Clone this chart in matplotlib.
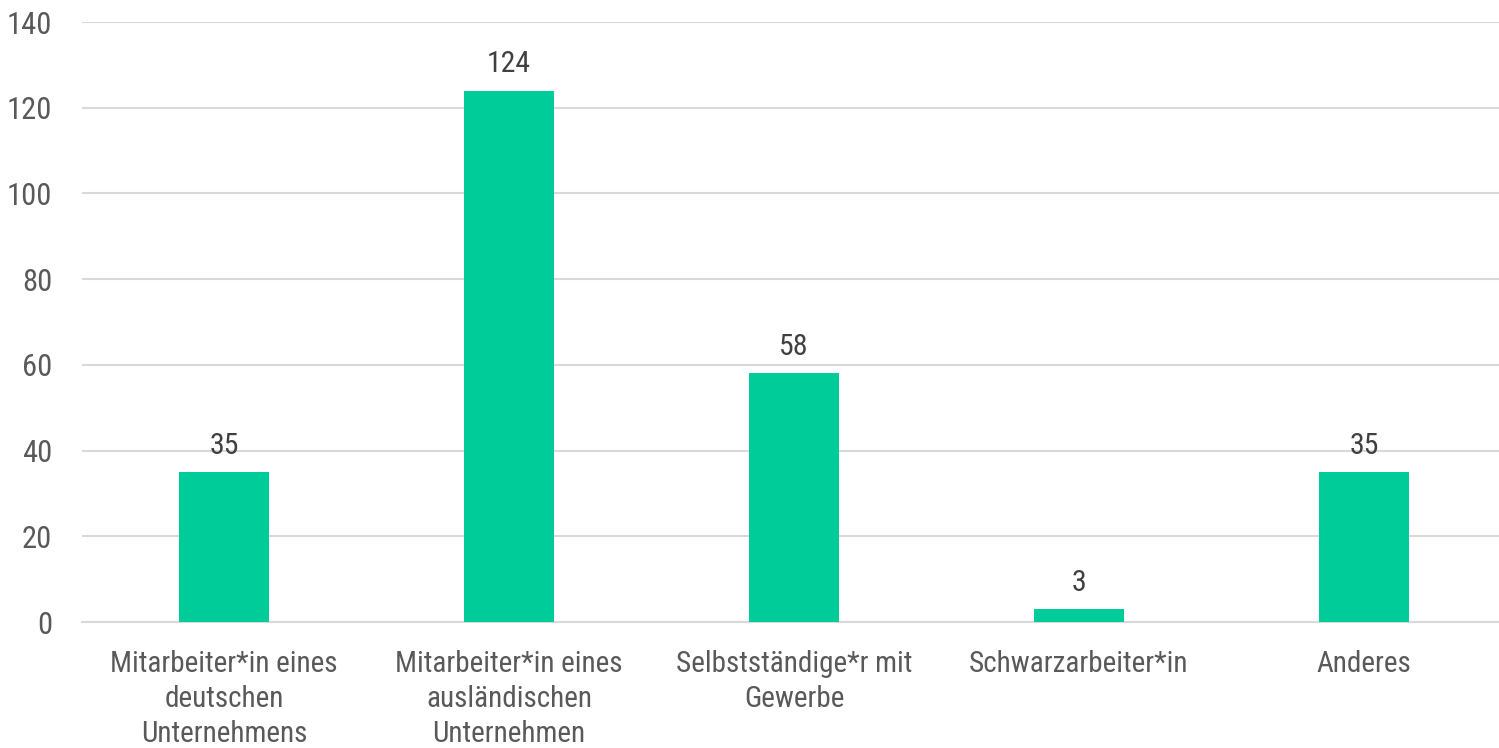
import matplotlib
matplotlib.use("Agg")
import matplotlib.pyplot as plt

categories = [
    "Mitarbeiter*in eines\ndeutschen\nUnternehmens",
    "Mitarbeiter*in eines\nausländischen\nUnternehmen",
    "Selbstständige*r mit\nGewerbe",
    "Schwarzarbeiter*in",
    "Anderes",
]
values = [35, 124, 58, 3, 35]
y_ticks = [0, 20, 40, 60, 80, 100, 120, 140]

plt.rcParams["font.family"] = ["Roboto Condensed", "Liberation Sans", "DejaVu Sans"]

fig = plt.figure(figsize=(14.99, 7.48), dpi=100)
W, H = 1499, 748
left, right, top, bottom = 81.5, 1506.5, 22, 622
ax = fig.add_axes([left / W, 1 - bottom / H, (right - left) / W, (bottom - top) / H])

x = list(range(len(categories)))
ax.bar(x, values, width=0.315, color="#00CC99", zorder=3)
for xi, v in zip(x, values):
    ax.annotate(str(v), (xi, v), xytext=(0, 9), textcoords="offset points",
                ha="center", va="bottom", fontsize=21.5, color="#404040")

ax.set_xlim(-0.5, len(categories) - 0.5)
ax.set_ylim(0, 140)
ax.set_yticks(y_ticks)
ax.yaxis.grid(True, color="#D9D9D9", linewidth=1.5, zorder=0)
ax.set_axisbelow(True)
ax.set_xticks(x)
ax.set_xticklabels(categories, fontsize=21, color="#595959", linespacing=1.32)
ax.tick_params(axis="y", labelsize=22, labelcolor="#595959", length=0, pad=21)
ax.tick_params(axis="x", length=0, pad=20)
for s in ["top", "right", "left"]:
    ax.spines[s].set_visible(False)
ax.spines["bottom"].set_color("#D9D9D9")
ax.spines["bottom"].set_linewidth(1.5)

fig.savefig("out.png", dpi=100)
